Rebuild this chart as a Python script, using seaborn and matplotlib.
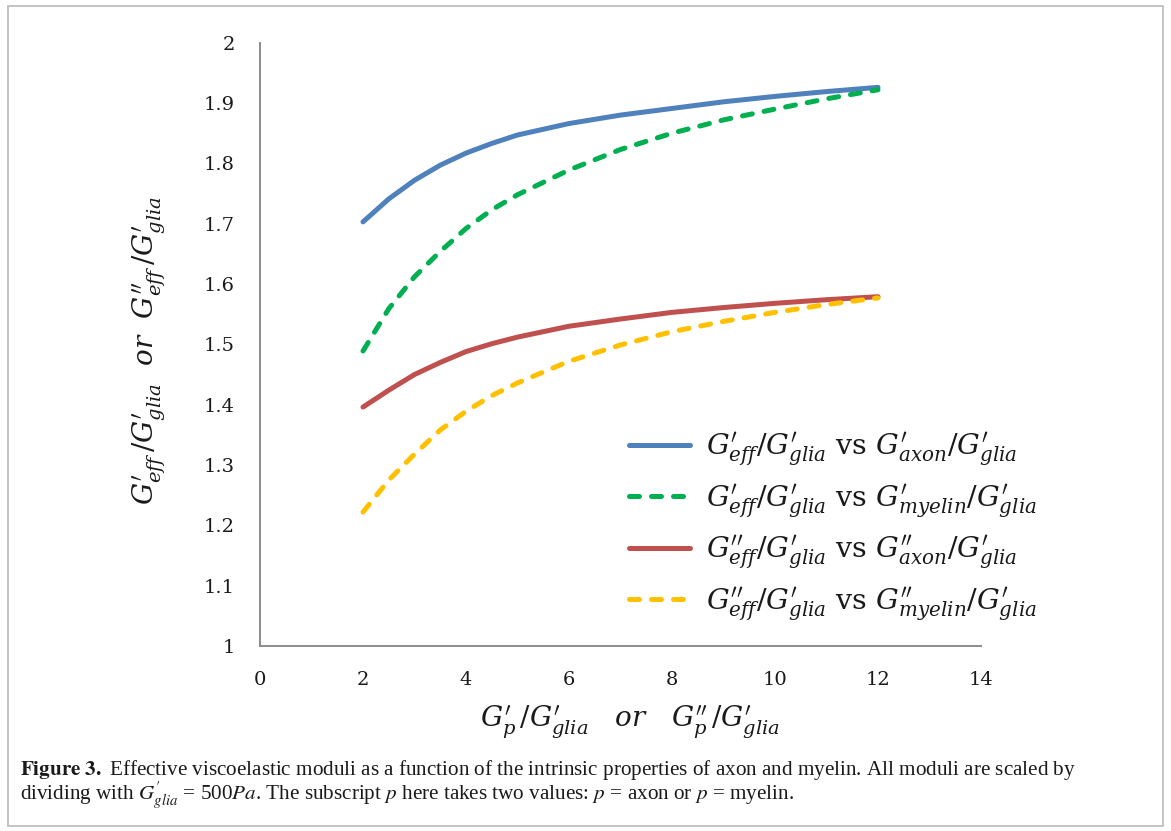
import matplotlib
matplotlib.use("Agg")
import matplotlib.pyplot as plt
import seaborn as sns
import pandas as pd
from matplotlib.patches import Rectangle

# ---- data ----
x_ratio = [2, 2.5, 3, 3.5, 4, 4.5, 5, 6, 7, 8, 9, 10, 11, 12]
g1_axon = [1.703, 1.741, 1.772, 1.797, 1.817, 1.833, 1.847, 1.866, 1.880, 1.891, 1.902, 1.911, 1.919, 1.926]
g1_myelin = [1.489, 1.559, 1.612, 1.654, 1.692, 1.723, 1.748, 1.789, 1.823, 1.850, 1.872, 1.890, 1.907, 1.922]
g2_axon = [1.396, 1.424, 1.450, 1.470, 1.488, 1.501, 1.512, 1.530, 1.542, 1.553, 1.561, 1.568, 1.574, 1.579]
g2_myelin = [1.222, 1.275, 1.318, 1.358, 1.389, 1.415, 1.436, 1.472, 1.499, 1.521, 1.538, 1.553, 1.566, 1.577]

labels = [
    r"$G^{\prime}_{eff}/G^{\prime}_{glia}$ vs $G^{\prime}_{axon}/G^{\prime}_{glia}$",
    r"$G^{\prime}_{eff}/G^{\prime}_{glia}$ vs $G^{\prime}_{myelin}/G^{\prime}_{glia}$",
    r"$G^{\prime\prime}_{eff}/G^{\prime}_{glia}$ vs $G^{\prime\prime}_{axon}/G^{\prime}_{glia}$",
    r"$G^{\prime\prime}_{eff}/G^{\prime}_{glia}$ vs $G^{\prime\prime}_{myelin}/G^{\prime}_{glia}$",
]
colors = ["#4F81BD", "#00B050", "#C0504D", "#FFC000"]
dashed = [False, True, False, True]
series = [g1_axon, g1_myelin, g2_axon, g2_myelin]

x_ticks = [0, 2, 4, 6, 8, 10, 12, 14]
y_ticks = [1, 1.1, 1.2, 1.3, 1.4, 1.5, 1.6, 1.7, 1.8, 1.9, 2]
y_tick_labels = ["1", "1.1", "1.2", "1.3", "1.4", "1.5", "1.6", "1.7", "1.8", "1.9", "2"]

sns.set_theme(style="white")
plt.rcParams["font.family"] = ["DejaVu Serif"]
plt.rcParams["mathtext.fontset"] = "dejavuserif"
plt.rcParams["lines.solid_capstyle"] = "round"
plt.rcParams["lines.dash_capstyle"] = "round"

fig = plt.figure(figsize=(11.71, 8.31), dpi=100)
ax = fig.add_axes([260 / 1171, 1 - 646 / 831, 721 / 1171, 603.3 / 831])

for ys, lab, col, dsh in zip(series, labels, colors, dashed):
    df = pd.DataFrame({"x": x_ratio, "y": ys})
    sns.lineplot(data=df, x="x", y="y", ax=ax, color=col, linewidth=3.6, label=lab)
    ln = ax.lines[-1]
    if dsh:
        ln.set_dashes((2.0, 2.4))
    ln.set_dash_capstyle("round")
    ln.set_solid_capstyle("round")

ax.set_xlim(0, 14)
ax.set_ylim(1, 2)
ax.set_xticks(x_ticks)
ax.set_xticklabels([str(v) for v in x_ticks])
ax.set_yticks(y_ticks)
ax.set_yticklabels(y_tick_labels)

for s in ["top", "right"]:
    ax.spines[s].set_visible(False)
for s in ["left", "bottom"]:
    ax.spines[s].set_color("#8C8C8C")
    ax.spines[s].set_linewidth(1.4)
ax.tick_params(axis="both", direction="out", length=6, width=1.3, color="#8C8C8C",
               labelsize=14, labelcolor="#1a1a1a")
ax.tick_params(axis="y", pad=12)
ax.tick_params(axis="x", pad=12)
ax.grid(False)

ax.set_xlabel(r"$G^{\prime}_p\,/G^{\prime}_{glia}\ \ \ or\ \ \ G^{\prime\prime}_p\,/G^{\prime}_{glia}$",
              fontsize=20, color="#1a1a1a")
ax.set_ylabel(r"$G^{\prime}_{eff}\,/G^{\prime}_{glia}\ \ or\ \ G^{\prime\prime}_{eff}\,/G^{\prime}_{glia}$",
              fontsize=20, color="#1a1a1a")
ax.xaxis.set_label_coords(0.513, -0.095)
ax.yaxis.set_label_coords(-0.128, 0.49)

leg = ax.legend(loc="upper left", bbox_to_anchor=(0.496, 0.376), frameon=False,
                fontsize=20.5, handlelength=2.15, handletextpad=0.55, labelspacing=0.48,
                borderaxespad=0)
for t in leg.get_texts():
    t.set_color("#1a1a1a")

# caption
cap_kw = dict(fontsize=15.2, family="Liberation Serif", color="#1a1a1a", va="baseline", ha="left")
fig.text(20 / 1171, 1 - 775 / 831,
         r"$\mathbf{Figure\ 3.}$ Effective viscoelastic moduli as a function of the intrinsic properties of axon and myelin. All moduli are scaled by",
         math_fontfamily="stix", **cap_kw)
fig.text(20 / 1171, 1 - 800 / 831,
         r"dividing with $G^{\prime}_{glia}$ = 500$Pa$. The subscript $p$ here takes two values: $p$ = axon or $p$ = myelin.",
         math_fontfamily="stix", **cap_kw)

# outer border
fig.patches.append(Rectangle((8 / 1171, 1 - 826 / 831), 1155 / 1171, 820 / 831,
                             transform=fig.transFigure, fill=False,
                             edgecolor="#BFBFBF", linewidth=1.3))

fig.savefig("out.png", dpi=100)
